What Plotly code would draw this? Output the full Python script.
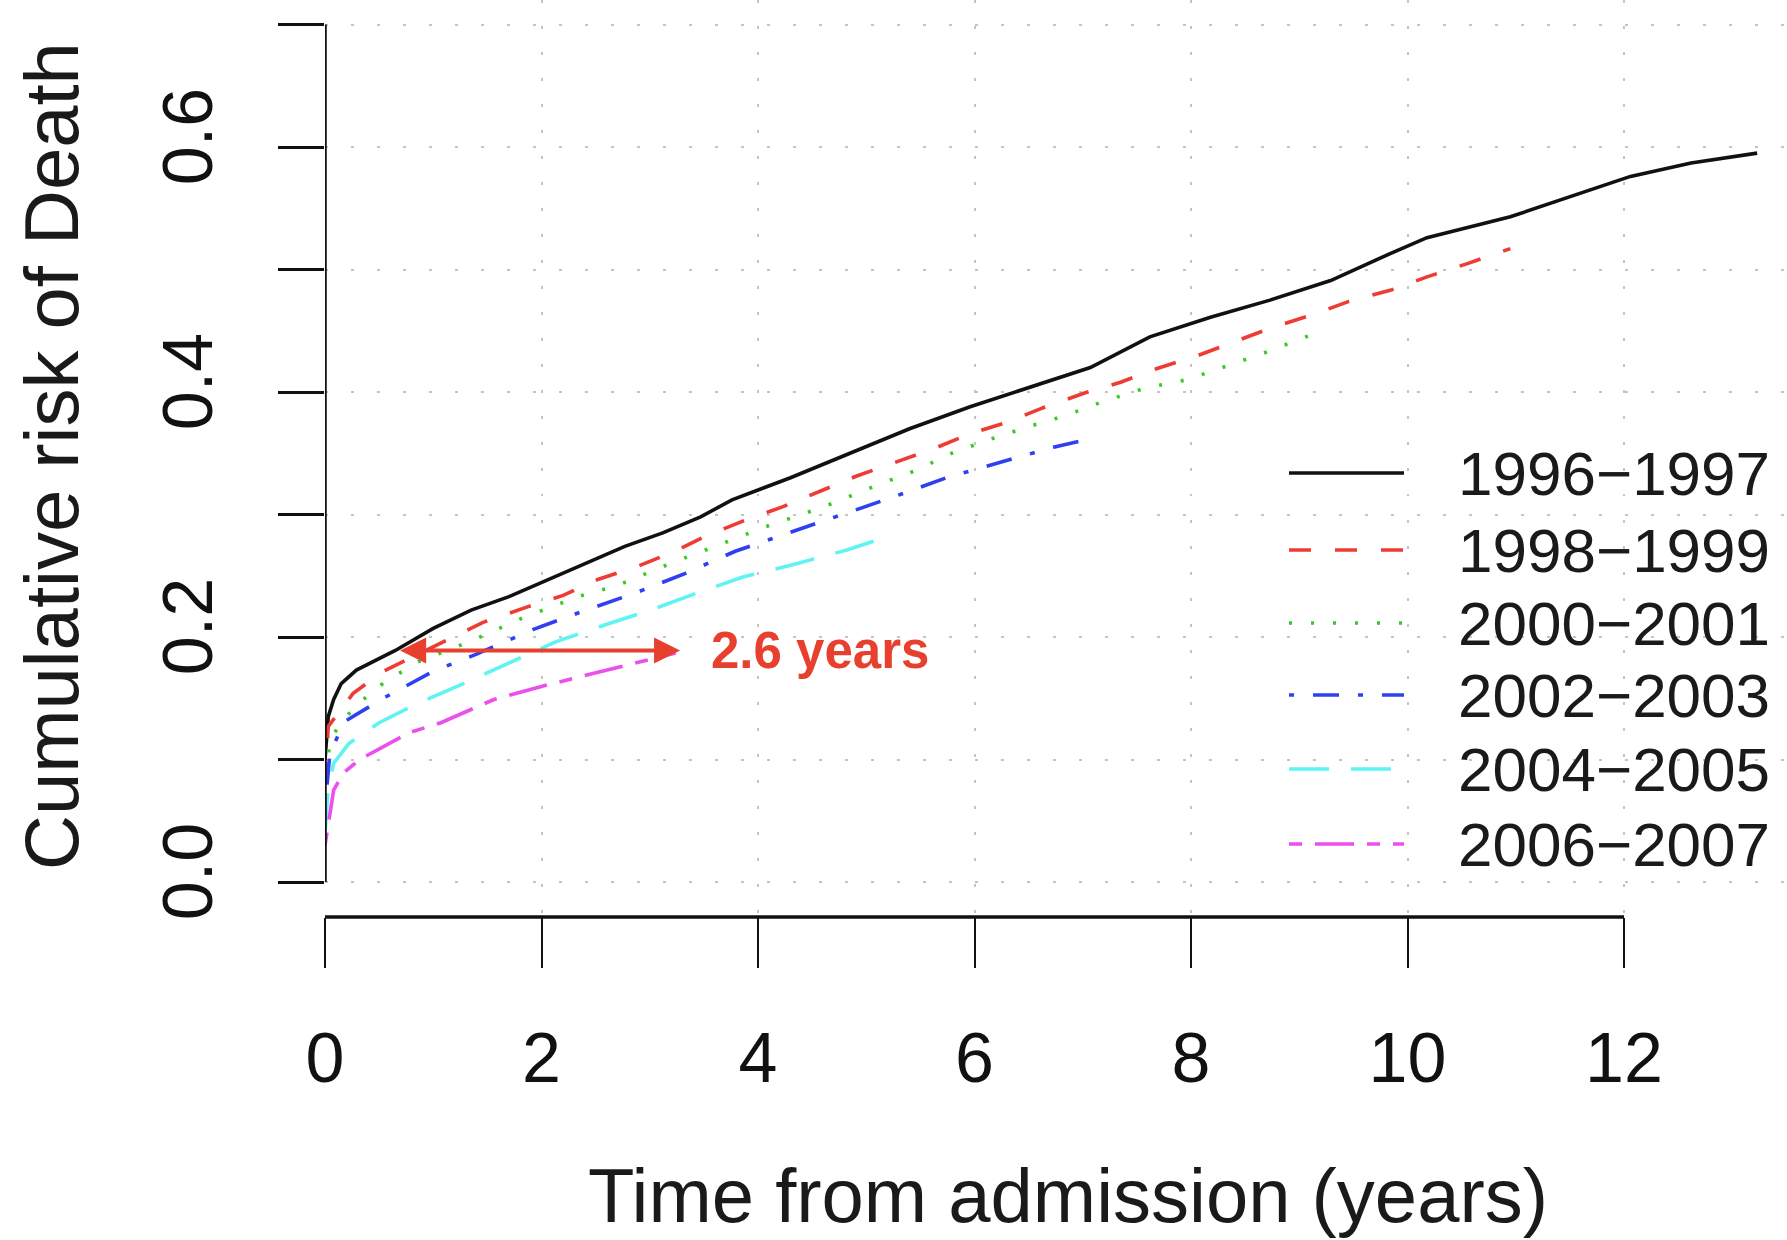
import plotly.graph_objects as go

# ---------------- data ----------------
series_names = ["1996−1997", "1998−1999", "2000−2001", "2002−2003", "2004−2005", "2006−2007"]

years_1996 = [0, 0.03, 0.08, 0.15, 0.29, 0.65, 1.0, 1.35, 1.7, 2.06, 2.41, 2.77, 3.12, 3.47, 3.76, 4.3,
              4.85, 5.4, 5.96, 6.51, 7.07, 7.62, 8.18, 8.73, 9.29, 9.84, 10.18, 10.95, 11.5, 12.06, 12.62, 13.23]
risk_1996 = [0.10, 0.135, 0.149, 0.162, 0.173, 0.189, 0.207, 0.222, 0.233, 0.247, 0.26, 0.274, 0.285, 0.298, 0.312, 0.33,
             0.35, 0.37, 0.388, 0.404, 0.42, 0.445, 0.461, 0.475, 0.491, 0.513, 0.526, 0.543, 0.559, 0.576, 0.587, 0.595]

years_1998 = [0, 0.03, 0.26, 0.54, 1.14, 1.46, 1.85, 2.2, 2.52, 2.87, 3.23, 3.51, 3.9, 4.22, 4.9, 5.29,
              5.63, 5.96, 6.29, 6.63, 7.01, 7.35, 7.68, 8.07, 8.4, 8.73, 9.12, 9.46, 9.84, 10.18, 10.56, 10.95]
risk_1998 = [0.08, 0.127, 0.154, 0.172, 0.198, 0.212, 0.224, 0.234, 0.247, 0.257, 0.27, 0.282, 0.296, 0.306, 0.331, 0.343,
             0.354, 0.366, 0.375, 0.387, 0.399, 0.408, 0.419, 0.43, 0.441, 0.452, 0.463, 0.474, 0.483, 0.494, 0.505, 0.517]

years_2000 = [0, 0.045, 0.27, 0.52, 0.84, 1.33, 1.81, 2.34, 2.7, 3.19, 3.72, 4.07, 4.6, 5.13, 5.46, 5.79,
              6.13, 6.51, 6.85, 7.18, 7.57, 7.96, 8.29, 8.68, 9.12]
risk_2000 = [0.07, 0.117, 0.143, 0.161, 0.179, 0.196, 0.215, 0.233, 0.242, 0.26, 0.278, 0.29, 0.306, 0.325, 0.336, 0.35,
             0.361, 0.372, 0.381, 0.392, 0.403, 0.41, 0.42, 0.432, 0.447]

years_2002 = [0, 0.045, 0.18, 0.56, 1.0, 1.4, 1.92, 2.38, 2.87, 3.33, 3.79, 4.29, 4.78, 5.24, 5.74, 6.24, 6.73, 7.08]
risk_2002 = [0.06, 0.105, 0.131, 0.151, 0.172, 0.186, 0.206, 0.221, 0.236, 0.252, 0.27, 0.285, 0.3, 0.314, 0.33, 0.343, 0.355, 0.362]

years_2004 = [0, 0.026, 0.08, 0.22, 0.5, 0.86, 1.28, 1.7, 2.13, 2.59, 3.01, 3.44, 3.86, 4.32, 4.82, 5.13]
risk_2004 = [0.04, 0.073, 0.097, 0.113, 0.13, 0.146, 0.162, 0.179, 0.196, 0.21, 0.222, 0.236, 0.249, 0.259, 0.271, 0.28]

years_2006 = [0, 0.026, 0.08, 0.17, 0.32, 0.57, 0.78, 1.07, 1.56, 2.06, 2.62, 3.12, 3.24]
risk_2006 = [0.03, 0.045, 0.075, 0.089, 0.1, 0.112, 0.122, 0.13, 0.149, 0.161, 0.173, 0.184, 0.187]

x_ticks = [0, 2, 4, 6, 8, 10, 12]
y_ticks = [0.0, 0.1, 0.2, 0.3, 0.4, 0.5, 0.6, 0.7]
y_tick_labels = ["0.0", "", "0.2", "", "0.4", "", "0.6", ""]

arrow_from = 0.68
arrow_to = 3.28
arrow_level = 0.189
arrow_label = "2.6 years"

# ---------------- styling ----------------
W, H = 1787, 1240
ML, MT = 325, 0
PB = 917           # bottom of plot area in px
PW = W - ML
PH = PB - MT

colors = ["#111111", "#EE3B33", "#3CC82A", "#2F3FF2", "#5EF4F4", "#EC4FEC"]
dashes = ["solid", "22px,24px", "3px,19px", "5px,19px,26px,19px", "40px,22px", "13px,13px,39px,13px"]
FONT = "Liberation Sans, Arial, Helvetica, sans-serif"

xs = [years_1996, years_1998, years_2000, years_2002, years_2004, years_2006]
ys = [risk_1996, risk_1998, risk_2000, risk_2002, risk_2004, risk_2006]


def px_x(p):
    return (p - ML) / PW


def px_y(p):
    return (PB - p) / PH


fig = go.Figure()
for name, x, y, c, d in zip(series_names, xs, ys, colors, dashes):
    fig.add_trace(go.Scatter(x=x, y=y, mode="lines", name=name,
                             line=dict(color=c, width=3.6, dash=d), showlegend=False))

x_max = PW / 108.25
y_lo = -(PB - 882) / 1225.0
y_hi = y_lo + PH / 1225.0

GRID = dict(showgrid=True, gridcolor="#C4C4C4", gridwidth=2.2, griddash="2.5px,23.5px")

fig.update_layout(
    width=W, height=H,
    margin=dict(l=ML, r=0, t=MT, b=H - PB),
    plot_bgcolor="white", paper_bgcolor="white",
    font=dict(family=FONT, color="#1a1a1a"),
    xaxis=dict(range=[0, x_max], tickvals=x_ticks, ticktext=[str(v) for v in x_ticks],
               ticks="outside", ticklen=50, tickwidth=2, tickcolor="#111111",
               showline=False, zeroline=False, **GRID,
               tickfont=dict(size=70, color="#111111"), ticklabelstandoff=30),
    yaxis=dict(range=[y_lo, y_hi], tickvals=y_ticks, ticktext=y_tick_labels,
               ticks="outside", ticklen=46, tickwidth=3, tickcolor="#111111",
               showline=False, zeroline=False, tickangle=-90, **GRID,
               tickfont=dict(size=70, color="#111111"), ticklabelstandoff=38),
)

# axis lines (R style: only across tick range)
fig.add_shape(type="line", xref="x", yref="y", x0=0, x1=0, y0=y_ticks[0], y1=y_ticks[-1],
              line=dict(color="#111111", width=3.5))
fig.add_shape(type="line", xref="x", yref="paper", x0=x_ticks[0], x1=x_ticks[-1], y0=0, y1=0,
              line=dict(color="#111111", width=3.5))

# axis titles
fig.add_annotation(text="Cumulative risk of Death", xref="paper", yref="paper",
                   x=px_x(51), y=px_y(456), textangle=-90, showarrow=False,
                   font=dict(size=76, color="#1a1a1a"), xanchor="center", yanchor="middle")
fig.add_annotation(text="Time from admission (years)", xref="paper", yref="paper",
                   x=px_x(1068), y=px_y(1195), showarrow=False,
                   font=dict(size=76, color="#1a1a1a"), xanchor="center", yanchor="middle")

# legend (drawn R style)
leg_rows = [473, 550, 623, 695, 769, 844]
for name, c, d, ry in zip(series_names, colors, dashes, leg_rows):
    fig.add_shape(type="line", xref="paper", yref="paper",
                  x0=px_x(1289), x1=px_x(1404), y0=px_y(ry), y1=px_y(ry),
                  line=dict(color=c, width=3.6, dash=d))
    fig.add_annotation(text=name, xref="paper", yref="paper", x=px_x(1456), y=px_y(ry),
                       showarrow=False, xanchor="left", yanchor="middle",
                       font=dict(size=62, color="#1a1a1a"))

# 2.6 years arrow
fig.add_annotation(x=arrow_to, y=arrow_level, ax=arrow_from, ay=arrow_level,
                   xref="x", yref="y", axref="x", ayref="y", text="",
                   showarrow=True, arrowside="end+start", arrowhead=2, arrowsize=1.3,
                   arrowwidth=4, arrowcolor="#E8402F")
fig.add_annotation(x=3.55, y=arrow_level, xref="x", yref="y", text="<b>" + arrow_label + "</b>",
                   showarrow=False, xanchor="left", yanchor="middle",
                   font=dict(size=51, color="#E8402F"))

fig.write_html("out.html", config={"displayModeBar": False},
               post_script="document.body.style.margin='0';document.body.style.padding='0';")
